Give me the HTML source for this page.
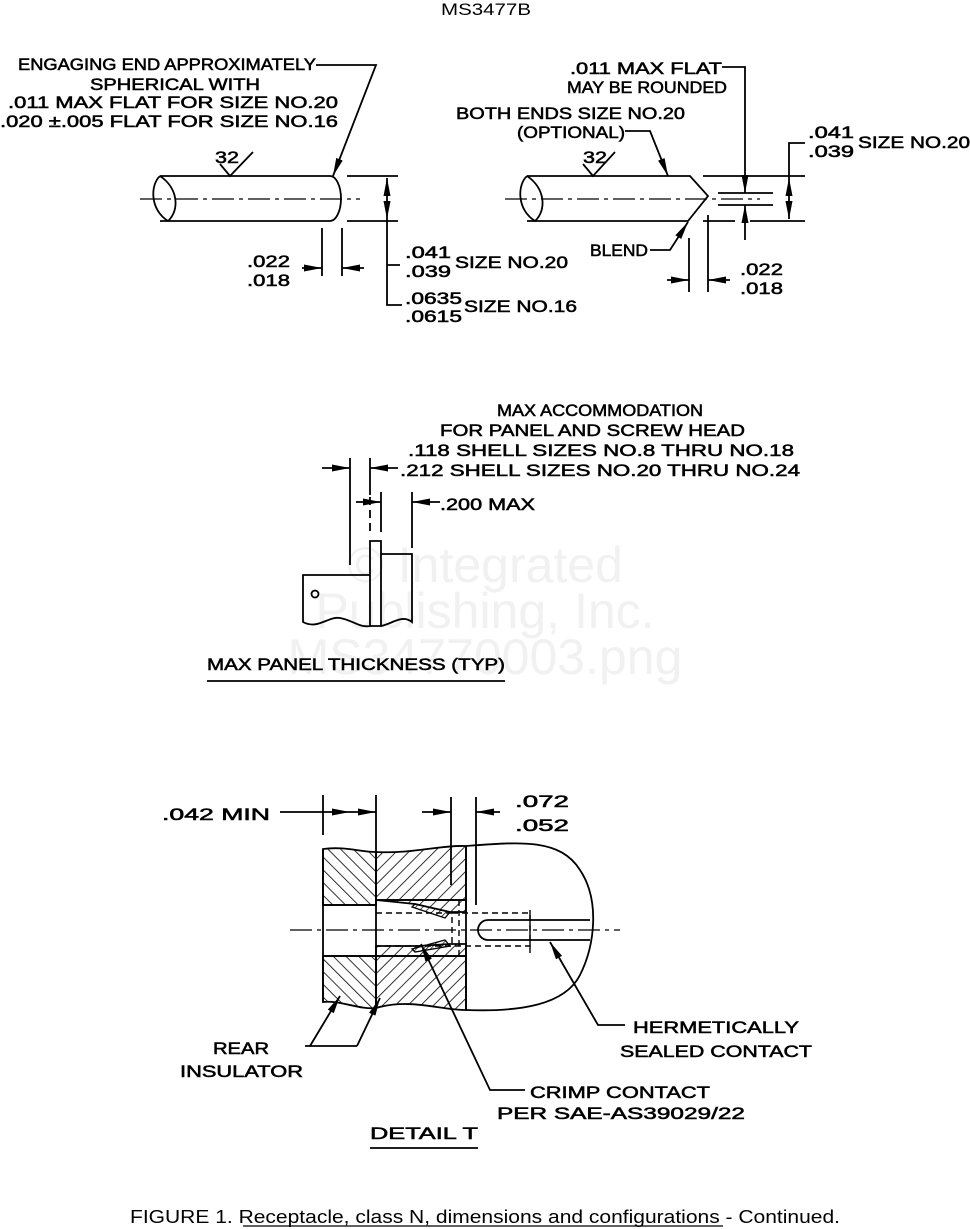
<!DOCTYPE html>
<html><head><meta charset="utf-8"><style>
html,body{margin:0;padding:0;background:#fff}
svg{display:block}
text{font-family:"Liberation Sans",sans-serif;fill:#000}
.t{font-size:17px;stroke:#000;stroke-width:0.55}
.w{font-size:50px;fill:#f1f1f1}
</style></head><body>
<svg width="970" height="1229" viewBox="0 0 970 1229" xmlns="http://www.w3.org/2000/svg">
<defs>
<marker id="b" viewBox="0 0 18 7" refX="18" refY="3.5" markerWidth="18" markerHeight="7" orient="auto" markerUnits="userSpaceOnUse"><path d="M0,0L18,3.5L0,7z" fill="#000"/></marker>
<pattern id="h1" width="9" height="9" patternUnits="userSpaceOnUse" patternTransform="rotate(45)"><line x1="0" y1="0" x2="0" y2="9" stroke="#000" stroke-width="1.6"/></pattern>
<pattern id="h2" width="9" height="9" patternUnits="userSpaceOnUse" patternTransform="rotate(-45)"><line x1="0" y1="0" x2="0" y2="9" stroke="#000" stroke-width="1.6"/></pattern>
<pattern id="h3" width="5" height="5" patternUnits="userSpaceOnUse" patternTransform="rotate(45)"><line x1="0" y1="0" x2="0" y2="5" stroke="#000" stroke-width="1.4"/></pattern>
</defs>

<text class="w" x="485" y="582" text-anchor="middle">© Integrated</text>
<text class="w" x="485" y="628" text-anchor="middle">Publishing, Inc.</text>
<text class="w" x="485" y="674" text-anchor="middle">MS34770003.png</text>

<text x="441" y="15" style="font-size:17px" textLength="90" lengthAdjust="spacingAndGlyphs">MS3477B</text>

<g stroke="#000" stroke-width="1.8" fill="none">
<!-- TOP LEFT -->
<path d="M316,65H376L333,176" marker-end="url(#b)"/>
<path d="M220,164L230,176L253,152"/>
<path d="M160,176H330A11,22.5 0 0 1 330,221H160"/>
<path d="M160,176C150,185 150,210 168,221C180,210 178,188 160,176"/>
<path d="M140,199H360" stroke-dasharray="22,5,4,5" stroke-width="1.3"/>
<path d="M347,176H398M347,221H398"/>
<path d="M387,200V178" marker-end="url(#b)"/>
<path d="M387,200V219" marker-end="url(#b)"/>
<path d="M387,219V305H402M387,265H400"/>
<path d="M322,228V276M342,228V276"/>
<path d="M302,268H322" marker-end="url(#b)"/>
<path d="M364,268H342" marker-end="url(#b)"/>

<!-- TOP RIGHT -->
<path d="M722,67H745V193" marker-end="url(#b)"/>
<path d="M745,240V205" marker-end="url(#b)"/>
<path d="M718,193H773M718,205H773"/>
<path d="M625,131H650L668,176" marker-end="url(#b)"/>
<path d="M583,164L593,176L615,152"/>
<path d="M527,176H690L708,196L688,221H527"/>
<path d="M527,176C517,185 517,210 535,221C547,210 545,188 527,176"/>
<path d="M505,199H760" stroke-dasharray="22,5,4,5" stroke-width="1.3"/>
<path d="M703,176H805M750,221H805M703,221H735"/>
<path d="M789,200V178" marker-end="url(#b)"/>
<path d="M789,200V219" marker-end="url(#b)"/>
<path d="M789,178V143H805"/>
<path d="M650,250H670L688,222" marker-end="url(#b)"/>
<path d="M689,238V292M708,215V292"/>
<path d="M667,280H689" marker-end="url(#b)"/>
<path d="M730,280H708" marker-end="url(#b)"/>

<!-- PANEL -->
<path d="M350,458V565M370,458V495M381,492V532M412,492V548"/>
<path d="M370,497V532" stroke-dasharray="8,5"/>
<path d="M322,468H350" marker-end="url(#b)"/>
<path d="M398,468H370" marker-end="url(#b)"/>
<path d="M356,502H381" marker-end="url(#b)"/>
<path d="M440,502H412" marker-end="url(#b)"/>
<path d="M370,541H381V626H370Z"/>
<path d="M370,575H303V622C318,630 328,616 340,618C352,620 360,628 370,626"/>
<path d="M381,554H412V622C402,614 392,624 381,626"/>
<circle cx="315" cy="594" r="3.5"/>
<path d="M207,681H505"/>

<!-- DETAIL T -->
<path d="M280,812H323"/>
<path d="M323,795V835M376,795V880M451,797V885M476,797V905"/>
<path d="M323,812H350" marker-end="url(#b)"/>
<path d="M350,812H376" marker-end="url(#b)"/>
<path d="M422,812H451" marker-end="url(#b)"/>
<path d="M500,812H476" marker-end="url(#b)"/>
</g>

<g stroke="#000" stroke-width="1.8">
<path d="M323,849C345,846 360,852 376,852V905H323Z" fill="url(#h2)"/>
<path d="M376,852C410,854 440,845 466,846V900H376Z" fill="url(#h1)"/>
<path d="M323,956H376V1008C360,1010 340,1000 323,1002Z" fill="url(#h2)"/>
<path d="M376,956H466V1010C440,1010 410,998 376,1008Z" fill="url(#h1)"/>
<path d="M376,900H466V912H450L415,904Z" fill="url(#h1)"/>
<path d="M376,956V946H418L450,944H466V956Z" fill="url(#h1)"/>
<path d="M415,904L450,912L445,918L412,907Z" fill="url(#h3)" stroke-width="1.3"/>
<path d="M412,949L445,940L450,946L415,952Z" fill="url(#h3)" stroke-width="1.3"/>
</g>
<g stroke="#000" stroke-width="1.8" fill="none">
<path d="M323,849V1002M376,852V1008M323,905H376M323,956H376"/>
<path d="M466,846C520,842 560,838 580,870C600,900 595,945 580,975C565,1005 520,1012 466,1010"/>
<path d="M466,846V1010"/>
<path d="M590,920H488A10,10 0 0 0 488,940H590"/>
<path d="M376,913H452V946H376" stroke-dasharray="6,4" stroke-width="1.4"/>
<path d="M452,913H530V946H452" stroke-dasharray="6,4" stroke-width="1.4"/>
<path d="M459,900V958" stroke-dasharray="6,4" stroke-width="1.4"/>
<path d="M530,910V953" stroke-width="1.4"/>
<path d="M290,930H620" stroke-dasharray="22,5,4,5" stroke-width="1.3"/>
<path d="M305,1046H357"/>
<path d="M310,1046L340,996" marker-end="url(#b)"/>
<path d="M357,1046L380,998" marker-end="url(#b)"/>
<path d="M625,1025H598L550,942" marker-end="url(#b)"/>
<path d="M525,1090H490L421,944" marker-end="url(#b)"/>
<path d="M370,1148H478"/>
</g>

<g class="t">
<text x="18" y="70" textLength="298" lengthAdjust="spacingAndGlyphs">ENGAGING END APPROXIMATELY</text>
<text x="90" y="90" textLength="170" lengthAdjust="spacingAndGlyphs">SPHERICAL WITH</text>
<text x="8" y="108" textLength="330" lengthAdjust="spacingAndGlyphs">.011 MAX FLAT FOR SIZE NO.20</text>
<text x="0" y="127" textLength="338" lengthAdjust="spacingAndGlyphs">.020 ±.005 FLAT FOR SIZE NO.16</text>
<text x="215" y="163" textLength="24" lengthAdjust="spacingAndGlyphs">32</text>
<text x="247" y="267" textLength="43" lengthAdjust="spacingAndGlyphs">.022</text>
<text x="247" y="286" textLength="43" lengthAdjust="spacingAndGlyphs">.018</text>
<text x="405" y="258" textLength="46" lengthAdjust="spacingAndGlyphs">.041</text>
<text x="405" y="277" textLength="46" lengthAdjust="spacingAndGlyphs">.039</text>
<text x="455" y="268" textLength="113" lengthAdjust="spacingAndGlyphs">SIZE NO.20</text>
<text x="405" y="304" textLength="57" lengthAdjust="spacingAndGlyphs">.0635</text>
<text x="405" y="322" textLength="57" lengthAdjust="spacingAndGlyphs">.0615</text>
<text x="464" y="312" textLength="113" lengthAdjust="spacingAndGlyphs">SIZE NO.16</text>

<text x="570" y="74" textLength="152" lengthAdjust="spacingAndGlyphs">.011 MAX FLAT</text>
<text x="567" y="93" textLength="160" lengthAdjust="spacingAndGlyphs">MAY BE ROUNDED</text>
<text x="456" y="119" textLength="229" lengthAdjust="spacingAndGlyphs">BOTH ENDS SIZE NO.20</text>
<text x="517" y="138" textLength="108" lengthAdjust="spacingAndGlyphs">(OPTIONAL)</text>
<text x="583" y="163" textLength="24" lengthAdjust="spacingAndGlyphs">32</text>
<text x="808" y="138" textLength="46" lengthAdjust="spacingAndGlyphs">.041</text>
<text x="808" y="157" textLength="46" lengthAdjust="spacingAndGlyphs">.039</text>
<text x="858" y="148" textLength="112" lengthAdjust="spacingAndGlyphs">SIZE NO.20</text>
<text x="590" y="256" textLength="58" lengthAdjust="spacingAndGlyphs">BLEND</text>
<text x="740" y="275" textLength="43" lengthAdjust="spacingAndGlyphs">.022</text>
<text x="740" y="294" textLength="43" lengthAdjust="spacingAndGlyphs">.018</text>

<text x="497" y="416" textLength="206" lengthAdjust="spacingAndGlyphs">MAX ACCOMMODATION</text>
<text x="440" y="436" textLength="305" lengthAdjust="spacingAndGlyphs">FOR PANEL AND SCREW HEAD</text>
<text x="408" y="456" textLength="386" lengthAdjust="spacingAndGlyphs">.118 SHELL SIZES NO.8 THRU NO.18</text>
<text x="400" y="476" textLength="400" lengthAdjust="spacingAndGlyphs">.212 SHELL SIZES NO.20 THRU NO.24</text>
<text x="440" y="510" textLength="95" lengthAdjust="spacingAndGlyphs">.200 MAX</text>
<text x="207" y="670" textLength="298" lengthAdjust="spacingAndGlyphs">MAX PANEL THICKNESS (TYP)</text>

<text x="162" y="820" textLength="108" lengthAdjust="spacingAndGlyphs">.042 MIN</text>
<text x="515" y="807" textLength="54" lengthAdjust="spacingAndGlyphs">.072</text>
<text x="515" y="831" textLength="54" lengthAdjust="spacingAndGlyphs">.052</text>
<text x="213" y="1054" textLength="56" lengthAdjust="spacingAndGlyphs">REAR</text>
<text x="180" y="1077" textLength="123" lengthAdjust="spacingAndGlyphs">INSULATOR</text>
<text x="633" y="1033" textLength="166" lengthAdjust="spacingAndGlyphs">HERMETICALLY</text>
<text x="620" y="1057" textLength="192" lengthAdjust="spacingAndGlyphs">SEALED CONTACT</text>
<text x="530" y="1098" textLength="180" lengthAdjust="spacingAndGlyphs">CRIMP CONTACT</text>
<text x="497" y="1119" textLength="248" lengthAdjust="spacingAndGlyphs">PER SAE-AS39029/22</text>
<text x="370" y="1139" textLength="108" lengthAdjust="spacingAndGlyphs">DETAIL T</text>
</g>

<text x="130" y="1223" style="font-size:18px" textLength="710" lengthAdjust="spacingAndGlyphs">FIGURE 1.  Receptacle, class N, dimensions and configurations - Continued.</text>
<line x1="243" y1="1226" x2="723" y2="1226" stroke="#000" stroke-width="1.2"/>
</svg>
</body></html>
